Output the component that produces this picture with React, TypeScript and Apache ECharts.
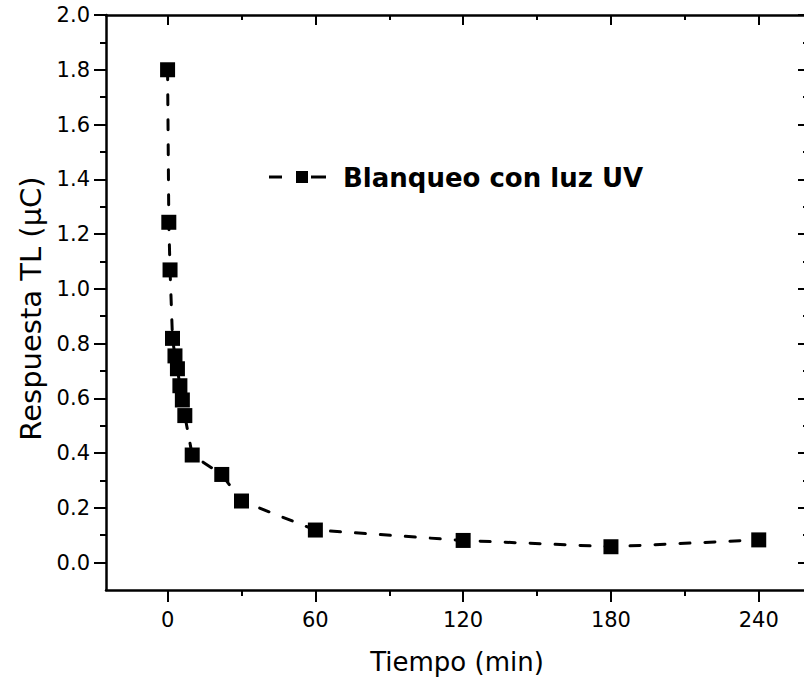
import React, { useEffect, useRef } from "react";
import * as echarts from "echarts";

const timeMin = [0, 0.5, 1, 2, 3, 4, 5, 6, 7, 10, 22, 30, 60, 120, 180, 240];
const responseTL = [1.8, 1.243, 1.069, 0.819, 0.755, 0.708, 0.646, 0.594, 0.537, 0.393, 0.322, 0.225, 0.119, 0.081, 0.058, 0.083];
const xMajorTicks = [0, 60, 120, 180, 240];
const xMinorTicks = [30, 90, 150, 210];
const yMajorTicks = [0, 0.2, 0.4, 0.6, 0.8, 1.0, 1.2, 1.4, 1.6, 1.8, 2.0];
const yMinorTicks = [0.1, 0.3, 0.5, 0.7, 0.9, 1.1, 1.3, 1.5, 1.7, 1.9];
const seriesName = "Blanqueo con luz UV";
const xTitle = "Tiempo (min)";
const yTitle = "Respuesta TL (μC)";

const FONT = '"DejaVu Sans", Verdana, sans-serif';
const BLACK = "#000";
const AXIS_W = 2.5;

function xAxisDef(position: "top" | "bottom", ticks: number[], len: number, inside: boolean, main: boolean) {
  return {
    type: "value",
    position,
    min: -25,
    max: 260,
    splitLine: { show: false },
    axisLine: { show: main, onZero: false, lineStyle: { color: BLACK, width: AXIS_W } },
    axisTick: { show: true, inside, length: len, customValues: ticks, lineStyle: { color: BLACK, width: 2 } },
    axisLabel:
      main && position === "bottom"
        ? { show: true, customValues: ticks, fontSize: 21, color: BLACK, fontFamily: FONT, margin: 19 }
        : { show: false },
    name: main && position === "bottom" ? xTitle : "",
    nameLocation: "middle",
    nameGap: 59,
    nameTextStyle: { fontSize: 26, color: BLACK, fontFamily: FONT },
  };
}

function yAxisDef(position: "left" | "right", ticks: number[], len: number, inside: boolean, main: boolean) {
  const lineVisible = main && position === "left";
  return {
    type: "value",
    position,
    min: -0.1,
    max: 2.0,
    splitLine: { show: false },
    axisLine: {
      show: lineVisible,
      onZero: false,
      lineStyle: lineVisible ? { color: BLACK, width: AXIS_W } : { color: "rgba(0,0,0,0)", width: 0, opacity: 0 },
    },
    axisTick: { show: true, inside, length: len, customValues: ticks, lineStyle: { color: BLACK, width: 2 } },
    axisLabel:
      main && position === "left"
        ? {
            show: true,
            customValues: ticks,
            fontSize: 21,
            color: BLACK,
            fontFamily: FONT,
            margin: 16,
            formatter: (v: number) => v.toFixed(1),
          }
        : { show: false },
    name: main && position === "left" ? yTitle : "",
    nameLocation: "middle",
    nameGap: 60,
    nameTextStyle: { fontSize: 29, color: BLACK, fontFamily: FONT, padding: [0, 12, 0, 0] },
  };
}

export default function App() {
  const ref = useRef<HTMLDivElement>(null);

  useEffect(() => {
    if (!ref.current) return;
    const chart = echarts.init(ref.current, undefined, { renderer: "svg" });
    const data = timeMin.map((t, i) => [t, responseTL[i]]);
    chart.setOption({
      animation: false,
      backgroundColor: "#fff",
      grid: { left: 106, right: 4, top: 15, bottom: 90, containLabel: false },
      xAxis: [
        xAxisDef("bottom", xMajorTicks, 12, false, true),
        xAxisDef("bottom", xMinorTicks, 6, false, false),
        xAxisDef("top", xMajorTicks, 10, true, true),
        xAxisDef("top", xMinorTicks, 5, true, false),
      ],
      yAxis: [
        yAxisDef("left", yMajorTicks, 12, false, true),
        yAxisDef("left", yMinorTicks, 6, false, false),
        yAxisDef("right", yMajorTicks, 10, true, true),
        yAxisDef("right", yMinorTicks, 5, true, false),
      ],
      series: [
        {
          name: seriesName,
          type: "line",
          xAxisIndex: 0,
          yAxisIndex: 0,
          data,
          symbol: "rect",
          symbolSize: 15,
          itemStyle: { color: BLACK },
          lineStyle: { color: BLACK, width: 3, type: [10, 15], cap: "round" },
          smooth: false,
        },
      ],
      graphic: [
        { type: "line", shape: { x1: 269, y1: 177, x2: 282, y2: 177 }, style: { stroke: BLACK, lineWidth: 3 } },
        { type: "rect", shape: { x: 296, y: 171, width: 12, height: 12 }, style: { fill: BLACK } },
        { type: "line", shape: { x1: 311, y1: 177, x2: 326, y2: 177 }, style: { stroke: BLACK, lineWidth: 3 } },
        {
          type: "text",
          x: 343,
          y: 178,
          style: {
            text: seriesName,
            fontSize: 26,
            fontWeight: "bold",
            fontFamily: FONT,
            fill: BLACK,
            verticalAlign: "middle",
          },
        },
      ],
    });
    return () => chart.dispose();
  }, []);

  return (
    <div style={{ position: "fixed", left: 0, top: 0, width: 804, height: 680, overflow: "hidden", background: "#fff" }}>
      <div ref={ref} style={{ width: 812, height: 680 }} />
    </div>
  );
}
